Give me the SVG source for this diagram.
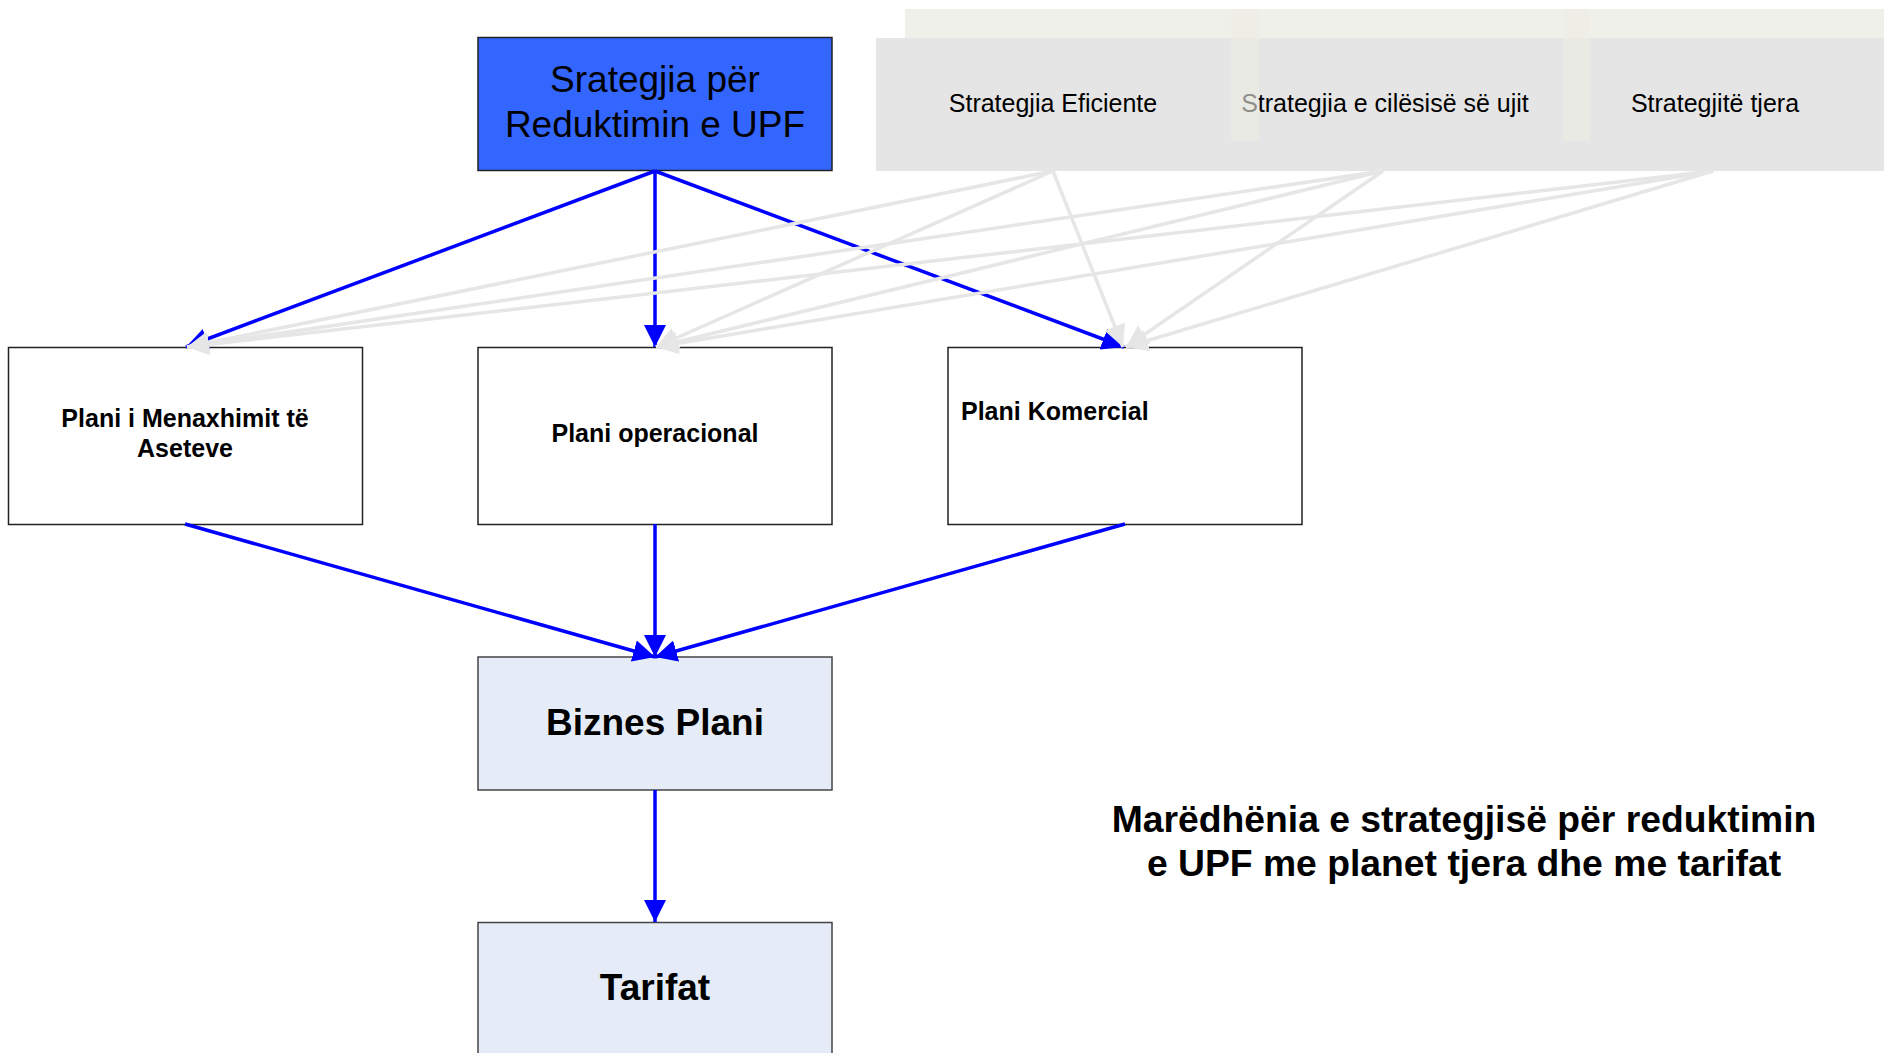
<svg xmlns="http://www.w3.org/2000/svg" width="1884" height="1053" viewBox="0 0 1884 1053">
<style>
  .box { fill: #ffffff; stroke: #222222; stroke-width: 1.5; }
  .soft { fill: #e6ecf7; stroke: #444444; stroke-width: 1.5; }
  .t { font-family: "Liberation Sans", Arial, sans-serif; fill: #000000; }
  .b { font-weight: bold; }
  .blue { stroke: #0000ff; stroke-width: 3.5; fill: none; marker-end: url(#ab); }
  .gray { stroke: #e6e6e6; stroke-width: 3.5; fill: none; marker-end: url(#ag); }
</style>
<defs>
  <marker id="ab" markerUnits="userSpaceOnUse" markerWidth="22" markerHeight="22" refX="22" refY="11" orient="auto" viewBox="0 0 22 22">
    <path d="M0,0 L22,11 L0,22 z" fill="#0000ff"/>
  </marker>
  <marker id="ag" markerUnits="userSpaceOnUse" markerWidth="22" markerHeight="22" refX="22" refY="11" orient="auto" viewBox="0 0 22 22">
    <path d="M0,0 L22,11 L0,22 z" fill="#e6e6e6"/>
  </marker>
</defs>
<rect width="1884" height="1053" fill="#ffffff"/>

<g id="strategy-band">
  <rect x="905" y="9" width="979" height="40" fill="#f0f0ea"/>
  <rect x="876" y="38" width="1008" height="133" fill="#e5e5e5"/>
  <text class="t" x="1053" y="112" font-size="25" text-anchor="middle">Strategjia Eficiente</text>
  <text class="t" x="1385" y="112" font-size="25" text-anchor="middle">Strategjia e cilësisë së ujit</text>
  <text class="t" x="1715" y="112" font-size="25" text-anchor="middle">Strategjitë tjera</text>
  <rect x="1231" y="9" width="28" height="132" fill="#ececE4" opacity="0.6"/>
  <rect x="1563" y="9" width="27" height="132" fill="#ececE4" opacity="0.6"/>
</g>

<g id="upf">
  <rect x="478" y="37.5" width="354" height="133" fill="#3366ff" stroke="#222222" stroke-width="1.5"/>
  <text class="t" x="655" y="92" font-size="37" text-anchor="middle">Srategjia për</text>
  <text class="t" x="655" y="137" font-size="37" text-anchor="middle">Reduktimin e UPF</text>
</g>

<g id="asset-plan">
  <rect class="box" x="8.5" y="347.5" width="354" height="177"/>
  <text class="t b" x="185" y="427" font-size="25" text-anchor="middle">Plani i Menaxhimit të</text>
  <text class="t b" x="185" y="457" font-size="25" text-anchor="middle">Aseteve</text>
</g>

<g id="operational-plan">
  <rect class="box" x="478" y="347.5" width="354" height="177"/>
  <text class="t b" x="655" y="442" font-size="25" text-anchor="middle">Plani operacional</text>
</g>

<g id="commercial-plan">
  <rect class="box" x="948" y="347.5" width="354" height="177"/>
  <text class="t b" x="961" y="420" font-size="25">Plani Komercial</text>
</g>

<g id="business-plan">
  <rect class="soft" x="478" y="657" width="354" height="133"/>
  <text class="t b" x="655" y="735" font-size="37" text-anchor="middle">Biznes Plani</text>
</g>

<g id="tariffs">
  <rect class="soft" x="478" y="922.5" width="354" height="140"/>
  <text class="t b" x="655" y="1000" font-size="37" text-anchor="middle">Tarifat</text>
</g>

<g id="caption">
  <text class="t b" x="1464" y="832" font-size="37.3" text-anchor="middle">Marëdhënia e strategjisë për reduktimin</text>
  <text class="t b" x="1464" y="876" font-size="37.3" text-anchor="middle">e UPF me planet tjera dhe me tarifat</text>
</g>

<g id="connectors">
  <path class="blue" d="M655,171 L186,347"/>
  <path class="blue" d="M655,171 L655,347"/>
  <path class="blue" d="M655,171 L1124,347"/>
  <path class="blue" d="M185,524 L655,657"/>
  <path class="blue" d="M655,524 L655,657"/>
  <path class="blue" d="M1125,524 L655,657"/>
  <path class="blue" d="M655,790 L655,922"/>
  <path class="gray" d="M1053,171 L187,347"/>
  <path class="gray" d="M1053,171 L656,347"/>
  <path class="gray" d="M1053,171 L1123,347"/>
  <path class="gray" d="M1383,171 L187,347"/>
  <path class="gray" d="M1383,171 L656,347"/>
  <path class="gray" d="M1383,171 L1126,347"/>
  <path class="gray" d="M1713,171 L187,347"/>
  <path class="gray" d="M1713,171 L656,347"/>
  <path class="gray" d="M1713,171 L1126,347"/>
</g>
</svg>
